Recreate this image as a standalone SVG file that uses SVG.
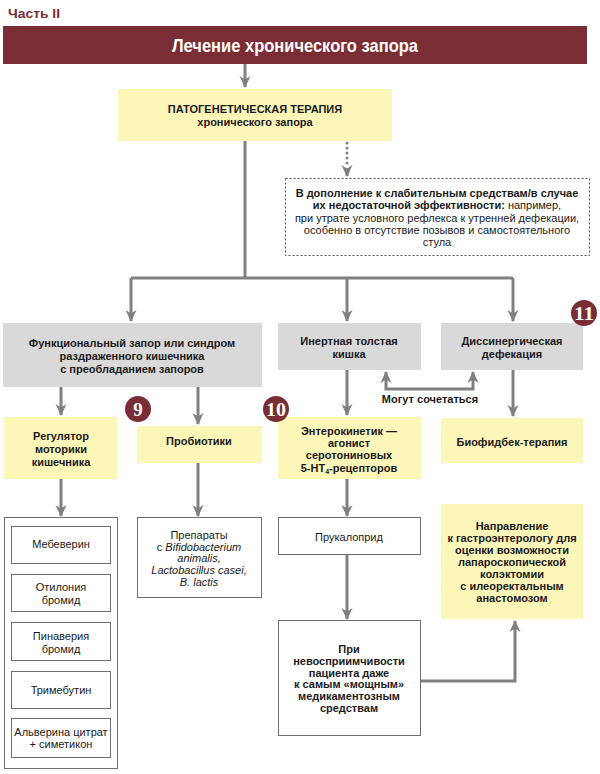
<svg xmlns="http://www.w3.org/2000/svg" width="600" height="774" viewBox="0 0 600 774">
<defs>
<style>
.t{font-family:"Liberation Sans",Arial,sans-serif;font-size:11px;fill:#1a1a1a;text-anchor:middle}
.b{font-weight:bold}
.i{font-style:italic}
.y{fill:#fcf6b9}
.g{fill:#d9d9d9}
.w{fill:#ffffff;stroke:#6f6f6f;stroke-width:1}
.c{fill:none;stroke:#808080;stroke-width:3}
.badge{fill:#7b2d35}
.bt{font-family:"Liberation Serif","Times New Roman",serif;font-weight:bold;font-size:19px;fill:#ffffff;text-anchor:middle}
</style>
<marker id="ah" viewBox="0 0 12 12" refX="11" refY="6" markerWidth="12" markerHeight="12" markerUnits="userSpaceOnUse" orient="auto">
<path d="M0,0.5 L12,6 L0,11.5 L3.5,6 z" fill="#808080"/>
</marker>
</defs>

<text x="8" y="18" font-family="'Liberation Sans',Arial,sans-serif" font-weight="bold" font-size="13" fill="#7b2d35" textLength="52" lengthAdjust="spacingAndGlyphs">Часть II</text>

<g id="header">
<rect x="3" y="26" width="584" height="38" fill="#7b2d35"/>
<text x="295" y="52" font-family="'Liberation Sans',Arial,sans-serif" font-weight="bold" font-size="18" fill="#ffffff" text-anchor="middle" textLength="246" lengthAdjust="spacingAndGlyphs">Лечение хронического запора</text>
</g>

<g id="connectors">
<path class="c" d="M245,64 V87" marker-end="url(#ah)"/>
<path class="c" d="M245,141 V278"/>
<path class="c" d="M131,278 H513"/>
<path class="c" d="M131,278 V321" marker-end="url(#ah)"/>
<path class="c" d="M347,278 V321" marker-end="url(#ah)"/>
<path class="c" d="M513,278 V321" marker-end="url(#ah)"/>
<path d="M347,143 V168" fill="none" stroke="#808080" stroke-width="3" stroke-linecap="round" stroke-dasharray="0,5"/>
<path class="c" d="M347,168 V176" marker-end="url(#ah)" stroke-width="1"/>
<path class="c" d="M430,389 H386 V372" marker-end="url(#ah)"/>
<path class="c" d="M430,389 H473 V372" marker-end="url(#ah)"/>
<path class="c" d="M61,387 V415" marker-end="url(#ah)"/>
<path class="c" d="M198,387 V424" marker-end="url(#ah)"/>
<path class="c" d="M347,370 V415" marker-end="url(#ah)"/>
<path class="c" d="M513,370 V416" marker-end="url(#ah)"/>
<path class="c" d="M61,479 V516" marker-end="url(#ah)"/>
<path class="c" d="M198,463 V516" marker-end="url(#ah)"/>
<path class="c" d="M347,479 V516" marker-end="url(#ah)"/>
<path class="c" d="M347,555 V619" marker-end="url(#ah)"/>
<path class="c" d="M421,681 H515 V621" marker-end="url(#ah)"/>
<text class="t b" x="430" y="403">Могут сочетаться</text>
</g>

<g id="pathogenetic">
<rect class="y" x="118" y="89" width="274" height="52"/>
<text class="t b" x="255" y="113">ПАТОГЕНЕТИЧЕСКАЯ ТЕРАПИЯ</text>
<text class="t b" x="255" y="126">хронического запора</text>
</g>

<g id="addition">
<rect x="285.5" y="178.5" width="304" height="77" fill="#ffffff" stroke="#555" stroke-width="1" stroke-dasharray="2,2"/>
<text class="t b" x="437" y="197">В дополнение к слабительным средствам/в случае</text>
<text class="t" x="437" y="209"><tspan class="b">их недостаточной эффективности:</tspan> например,</text>
<text class="t" x="437" y="222">при утрате условного рефлекса к утренней дефекации,</text>
<text class="t" x="437" y="234">особенно в отсутствие позывов и самостоятельного</text>
<text class="t" x="437" y="246">стула</text>
</g>

<g id="functional">
<rect class="g" x="3" y="323" width="259" height="64"/>
<text class="t b" x="132" y="347">Функциональный запор или синдром</text>
<text class="t b" x="132" y="360">раздраженного кишечника</text>
<text class="t b" x="132" y="373">с преобладанием запоров</text>
</g>

<g id="inert">
<rect class="g" x="278" y="323" width="143" height="47"/>
<text class="t b" x="349" y="345">Инертная толстая</text>
<text class="t b" x="349" y="358">кишка</text>
</g>

<g id="dyssynergic">
<rect class="g" x="441" y="323" width="142" height="47"/>
<text class="t b" x="512" y="345">Диссинергическая</text>
<text class="t b" x="512" y="358">дефекация</text>
</g>

<g id="badge11">
<circle class="badge" cx="584" cy="313" r="13"/>
<text class="bt" x="584" y="320" textLength="20" lengthAdjust="spacingAndGlyphs">11</text>
</g>

<g id="regulator">
<rect class="y" x="4" y="417" width="113" height="62"/>
<text class="t b" x="61" y="440">Регулятор</text>
<text class="t b" x="61" y="453">моторики</text>
<text class="t b" x="61" y="466">кишечника</text>
</g>

<g id="probiotics">
<rect class="y" x="137" y="426" width="125" height="37"/>
<text class="t b" x="199" y="445">Пробиотики</text>
</g>

<g id="badge9">
<circle class="badge" cx="138" cy="409" r="13"/>
<text class="bt" x="138" y="416">9</text>
</g>

<g id="enterokinetic">
<rect class="y" x="278" y="417" width="143" height="62"/>
<text class="t b" x="349" y="435">Энтерокинетик —</text>
<text class="t b" x="349" y="447">агонист</text>
<text class="t b" x="349" y="459">серотониновых</text>
<text class="t b" x="349" y="472">5-HT<tspan font-size="7" dy="2">4</tspan><tspan dy="-2">-рецепторов</tspan></text>
</g>

<g id="badge10">
<circle class="badge" cx="276" cy="409" r="13"/>
<text class="bt" x="276" y="416" textLength="20" lengthAdjust="spacingAndGlyphs">10</text>
</g>

<g id="biofeedback">
<rect class="y" x="441" y="418" width="142" height="45"/>
<text class="t b" x="512" y="446">Биофидбек-терапия</text>
</g>

<g id="drugs">
<rect class="w" x="4.5" y="517.5" width="113" height="251"/>
<rect class="w" x="11.5" y="526.5" width="99" height="37"/>
<text class="t" x="61" y="548">Мебеверин</text>
<rect class="w" x="11.5" y="574.5" width="99" height="37"/>
<text class="t" x="61" y="591">Отилония</text>
<text class="t" x="61" y="604">бромид</text>
<rect class="w" x="11.5" y="622.5" width="99" height="38"/>
<text class="t" x="61" y="640">Пинаверия</text>
<text class="t" x="61" y="653">бромид</text>
<rect class="w" x="11.5" y="671.5" width="99" height="37"/>
<text class="t" x="61" y="694">Тримебутин</text>
<rect class="w" x="11.5" y="718.5" width="99" height="39"/>
<text class="t" x="61" y="736">Альверина цитрат</text>
<text class="t" x="61" y="748">+ симетикон</text>
</g>

<g id="preparations">
<rect class="w" x="137.5" y="517.5" width="124" height="80"/>
<text class="t" x="199" y="539">Препараты</text>
<text class="t" x="199" y="551">с <tspan class="i">Bifidobacterium</tspan></text>
<text class="t i" x="199" y="562">animalis,</text>
<text class="t i" x="199" y="574">Lactobacillus casei,</text>
<text class="t i" x="199" y="586">B. lactis</text>
</g>

<g id="prucalopride">
<rect class="w" x="278.5" y="517.5" width="142" height="37"/>
<text class="t" x="349" y="541">Прукалоприд</text>
</g>

<g id="refractory">
<rect class="w" x="278.5" y="620.5" width="142" height="115"/>
<text class="t b" x="349" y="653">При</text>
<text class="t b" x="349" y="665">невосприимчивости</text>
<text class="t b" x="349" y="677">пациента даже</text>
<text class="t b" x="349" y="688">к самым «мощным»</text>
<text class="t b" x="349" y="700">медикаментозным</text>
<text class="t b" x="349" y="712">средствам</text>
</g>

<g id="referral">
<rect class="y" x="441" y="504" width="142" height="115"/>
<text class="t b" x="512" y="530">Направление</text>
<text class="t b" x="512" y="542">к гастроэнтерологу для</text>
<text class="t b" x="512" y="554">оценки возможности</text>
<text class="t b" x="512" y="566">лапароскопической</text>
<text class="t b" x="512" y="578">колэктомии</text>
<text class="t b" x="512" y="590">с илеоректальным</text>
<text class="t b" x="512" y="602">анастомозом</text>
</g>
</svg>
